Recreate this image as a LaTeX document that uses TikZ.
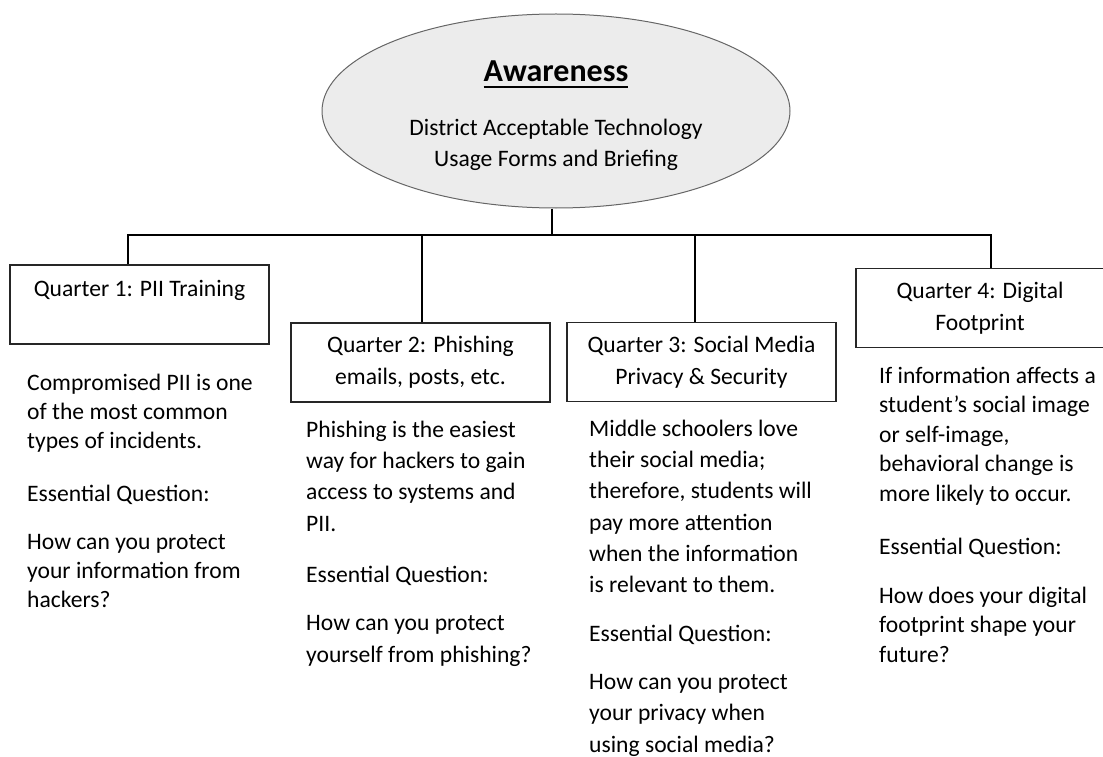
\documentclass[tikz,border=0pt]{standalone}
\usepackage{fontspec}
\setmainfont{Carlito}
\usetikzlibrary{shapes.geometric}

\newcommand{\heading}[1]{\setbox0=\hbox{#1}\rlap{\rule[-6pt]{\wd0}{2pt}}\box0}

\begin{document}
\begin{tikzpicture}[x=1pt,y=1pt,
        every node/.style={inner sep=0pt},
        quarter/.style={draw=black!85,line width=1.1pt,fill=white,minimum width=259pt,minimum height=79pt,
            align=center,font=\fontsize{23.6}{32}\selectfont},
        body/.style={anchor=base west,align=left,font=\fontsize{23.6}{29}\selectfont},
        widebody/.style={body,font=\fontsize{23.6}{31.3}\selectfont},
        link/.style={line width=2.2pt}]
    \useasboundingbox (0,0) rectangle (1103,-757);

    % the multi-line nodes below are placed by the baseline of their last line
    \node (aware) at (556,-111)[ellipse,draw=black!60,line width=1pt,fill=gray!15,minimum width=468pt,minimum height=194pt]{};
    \node (title) at (556,-82)[anchor=base,font=\fontsize{32}{38}\selectfont\bfseries]{\heading{Awareness}};
    \node (usage) at (556,-166)[anchor=base,align=center,font=\fontsize{23.6}{30}\selectfont]{District Acceptable Technology\\Usage Forms and Briefing};

    \node (q1) at (139.5,-304.5)[quarter]{Quarter 1: PII Training\\ \mbox{}};
    \node (q2) at (420.5,-362.5)[quarter]{Quarter 2: Phishing\\emails, posts, etc.};
    \node (q3) at (701.5,-362)[quarter,minimum width=269pt]{Quarter 3: Social Media\\Privacy \& Security};
    \node (q4) at (980,-308)[quarter,minimum width=248pt]{Quarter 4: Digital\\Footprint};

    \coordinate (stem) at (552,-235);
    \draw[link] (stem |- aware.south) -- (stem);
    \foreach \q/\x in {q1/128,q2/422,q3/695,q4/991}
    {
        \coordinate (\q-tap) at (\x,-235);
    }
    \draw[link] (q1-tap |- q1.north) -- (q1-tap) -- (q4-tap) -- (q4-tap |- q4.north);
    \foreach \q in {q2,q3}
    {
        \draw[link] (\q-tap) -- (\q-tap |- \q.north);
    }

    \node (t1) at (27,-607)[body]{Compromised PII is one\\of the most common\\types of incidents.\\[24pt]
        Essential Question:\\[19pt]How can you protect\\your information from\\hackers?};
    \node (t2) at (306,-662)[widebody]{Phishing is the easiest\\way for hackers to gain\\access to systems and\\PII.\\[20pt]
        Essential Question:\\[17pt]How can you protect\\yourself from phishing?};
    \node (t3) at (589,-752)[widebody]{Middle schoolers love\\their social media;\\therefore, students will\\pay more attention\\when the information\\is relevant to them.\\[17pt]
        Essential Question:\\[17pt]How can you protect\\your privacy when\\using social media?};
    \node (t4) at (879,-662)[body,font=\fontsize{23.6}{29.5}\selectfont]{If information affects a\\student’s social image\\or self-image,\\behavioral change is\\more likely to occur.\\[24pt]
        Essential Question:\\[19pt]How does your digital\\footprint shape your\\future?};
\end{tikzpicture}
\end{document}
